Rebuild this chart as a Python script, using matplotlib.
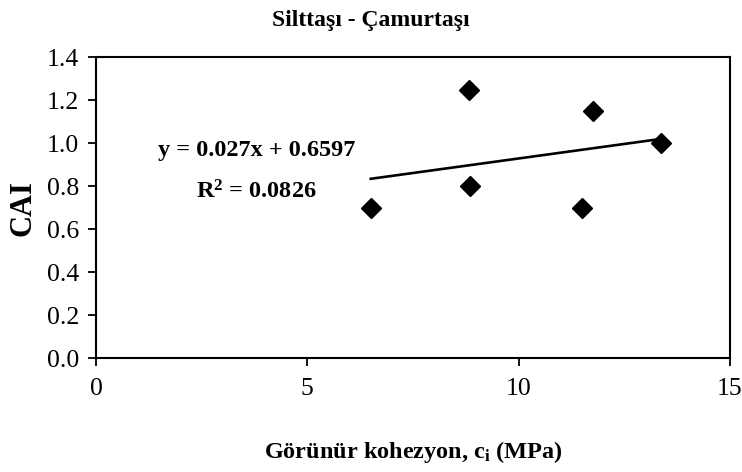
import matplotlib
matplotlib.use("Agg")
import matplotlib.pyplot as plt
import numpy as np

# data
ci_mpa = [6.5, 8.82, 8.86, 11.5, 11.75, 13.36]
cai = [0.70, 1.25, 0.80, 0.70, 1.15, 1.00]
slope, intercept = 0.027, 0.6597
r2 = 0.0826

x_ticks = [0, 5, 10, 15]
y_ticks = [0.0, 0.2, 0.4, 0.6, 0.8, 1.0, 1.2, 1.4]

plt.rcParams['font.family'] = ['Liberation Serif', 'DejaVu Serif']
plt.rcParams['mathtext.fontset'] = 'custom'
plt.rcParams['mathtext.rm'] = 'Liberation Serif'
plt.rcParams['mathtext.bf'] = 'Liberation Serif:bold'
plt.rcParams['mathtext.it'] = 'Liberation Serif:italic'

fig = plt.figure(figsize=(7.42, 4.72), dpi=100)
ax = fig.add_axes([0.1294, 0.2405, 0.8544, 0.6381])

ax.plot(ci_mpa, cai, linestyle='none', marker='D', markersize=10,
        color='black')

# trend line over the data range
xl = np.array([min(ci_mpa), max(ci_mpa)])
ax.plot(xl, slope * xl + intercept, color='black', linewidth=1.9)

ax.text(3.79, 0.965, f'y = {slope}x + {intercept}', ha='center', va='center',
        fontsize=17.5, fontweight='bold')
ax.text(3.79, 0.775, f'R$^\\mathbf{{2}}$ = {r2}', ha='center', va='center',
        fontsize=17.5, fontweight='bold')

ax.set_xlim(0, 15)
ax.set_ylim(0, 1.4)
ax.set_xticks(x_ticks)
ax.set_xticklabels([str(t) for t in x_ticks])
ax.set_yticks(y_ticks)
ax.set_yticklabels([f'{t:.1f}' for t in y_ticks])
ax.tick_params(direction='out', length=6, width=1.3, labelsize=18.5)
ax.tick_params(axis='y', pad=6)
ax.tick_params(axis='x', pad=8)
for s in ax.spines.values():
    s.set_linewidth(1.5)

ax.set_xlabel('Görünür kohezyon, c$_\\mathbf{i}$ (MPa)', fontsize=17.5,
              fontweight='bold', labelpad=28)
ax.set_ylabel('CAI', fontsize=22, fontweight='bold', labelpad=7)
fig.text(0.5, 0.957, 'Silttaşı - Çamurtaşı', ha='center', va='center',
         fontsize=17, fontweight='bold')

fig.savefig('out.png', dpi=100)
